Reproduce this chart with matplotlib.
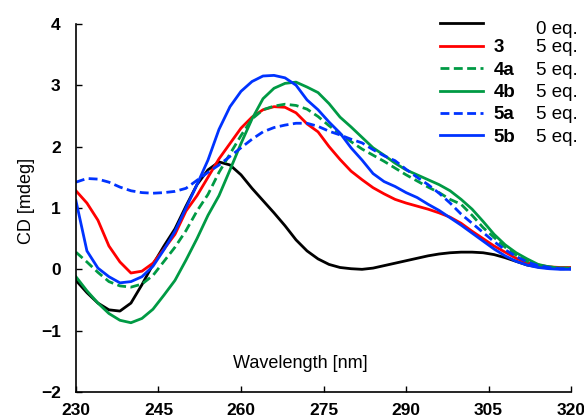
# CD titration spectra
# Recreating the CD plot of the ligand additions

# Import libraries ............................................................

import numpy as np
import matplotlib.pyplot as plt

plt.rcParams["font.family"] = ["Liberation Sans", "DejaVu Sans"]



wavelength = np.arange(230, 321, 2)

cd_0eq = [-0.18, -0.38, -0.55, -0.66, -0.68, -0.55, -0.25, 0.08, 0.38, 0.66,
          1.03, 1.38, 1.62, 1.75, 1.70, 1.54, 1.32, 1.12, 0.92, 0.71,
          0.48, 0.30, 0.17, 0.08, 0.03, 0.01, 0.00, 0.02, 0.06, 0.10,
          0.14, 0.18, 0.22, 0.25, 0.27, 0.28, 0.28, 0.27, 0.24, 0.19,
          0.13, 0.07, 0.04, 0.02, 0.01, 0.01]

cd_3 = [1.28, 1.08, 0.80, 0.38, 0.12, -0.06, -0.03, 0.10, 0.33, 0.57,
        0.95, 1.20, 1.50, 1.80, 2.05, 2.30, 2.48, 2.60, 2.65, 2.64,
        2.55, 2.37, 2.24, 2.00, 1.79, 1.60, 1.46, 1.33, 1.23, 1.14,
        1.08, 1.03, 0.98, 0.92, 0.85, 0.75, 0.62, 0.50, 0.38, 0.28,
        0.18, 0.11, 0.07, 0.04, 0.03, 0.03]

cd_4a = [0.28, 0.12, -0.05, -0.20, -0.27, -0.29, -0.24, -0.10, 0.13, 0.36,
         0.63, 0.95, 1.22, 1.58, 1.88, 2.18, 2.45, 2.60, 2.66, 2.69,
         2.67, 2.61, 2.49, 2.34, 2.21, 2.08, 1.96, 1.86, 1.76, 1.65,
         1.54, 1.44, 1.34, 1.25, 1.14, 1.06, 0.88, 0.68, 0.52, 0.36,
         0.23, 0.13, 0.07, 0.04, 0.02, 0.02]

cd_4b = [-0.12, -0.35, -0.55, -0.72, -0.83, -0.87, -0.80, -0.65, -0.42, -0.18,
         0.15, 0.50, 0.88, 1.20, 1.62, 2.05, 2.45, 2.78, 2.95, 3.03,
         3.05, 2.97, 2.88, 2.70, 2.48, 2.32, 2.15, 1.98, 1.86, 1.73,
         1.62, 1.54, 1.46, 1.38, 1.28, 1.14, 0.98, 0.78, 0.57, 0.40,
         0.27, 0.17, 0.08, 0.04, 0.02, 0.02]

cd_5a = [1.42, 1.48, 1.47, 1.42, 1.34, 1.28, 1.25, 1.24, 1.25, 1.27,
         1.32, 1.45, 1.58, 1.70, 1.84, 1.98, 2.12, 2.24, 2.31, 2.35,
         2.38, 2.38, 2.33, 2.25, 2.19, 2.12, 2.06, 1.95, 1.85, 1.77,
         1.63, 1.50, 1.38, 1.24, 1.08, 0.90, 0.75, 0.60, 0.45, 0.32,
         0.21, 0.12, 0.06, 0.03, 0.01, 0.01]

cd_5b = [1.12, 0.30, 0.02, -0.12, -0.22, -0.20, -0.12, 0.05, 0.32, 0.62,
         1.00, 1.38, 1.78, 2.28, 2.65, 2.90, 3.06, 3.15, 3.16, 3.12,
         3.00, 2.76, 2.60, 2.40, 2.22, 1.98, 1.78, 1.56, 1.43, 1.35,
         1.25, 1.17, 1.06, 0.96, 0.84, 0.72, 0.59, 0.46, 0.33, 0.22,
         0.13, 0.07, 0.03, 0.01, 0.00, 0.00]

spectra = [cd_0eq, cd_3, cd_4a, cd_4b, cd_5a, cd_5b]
names = ["", "3", "4a", "4b", "5a", "5b"]
equivalents = ["0 eq.", "5 eq.", "5 eq.", "5 eq.", "5 eq.", "5 eq."]
colors = ["black", "#ff0000", "#009a44", "#009a44", "#0033ff", "#0033ff"]
styles = ["-", "-", "--", "-", "--", "-"]

x_ticks = [230, 245, 260, 275, 290, 305, 320]
y_ticks = [-2, -1, 0, 1, 2, 3, 4]



# Plot spectra ................................................................

fig = plt.figure(figsize = (5.84, 4.18), dpi = 100)
ax = fig.add_axes([0.130, 0.062, 0.848, 0.881])

handles = []
for y, c, ls in zip(spectra, colors, styles):
    line, = ax.plot(wavelength, y, color = c, linestyle = ls, linewidth = 2.0)
    if ls == "--":
        line.set_dashes((3.2, 1.6))
    handles.append(line)

ax.set_xlim(230, 320)
ax.set_ylim(-2, 4)
ax.set_xticks(x_ticks)
ax.set_yticks(y_ticks)
ax.tick_params(direction = "in", length = 4, width = 1, labelsize = 12.5)
ax.tick_params(axis = "x", pad = 8)
ax.tick_params(axis = "y", pad = 11)
for lab in ax.get_xticklabels() + ax.get_yticklabels():
    lab.set_fontweight("bold")

ax.spines["top"].set_visible(False)
ax.spines["right"].set_visible(False)
ax.spines["left"].set_linewidth(1.2)
ax.spines["bottom"].set_linewidth(1.2)

ax.set_xlabel("Wavelength [nm]", fontsize = 13)
ax.xaxis.set_label_coords(0.453, 0.10)
ax.set_ylabel("CD [mdeg]", fontsize = 13)
ax.yaxis.set_label_coords(-0.082, 0.519)

# Legend: bold compound names, then the equivalents column
leg = ax.legend(handles, names, loc = "upper left", bbox_to_anchor = (0.735, 1.019),
                frameon = False, borderpad = 0, borderaxespad = 0,
                handlelength = 2.3, handletextpad = 0.55, labelspacing = 0.28,
                prop = {"size": 13.5, "weight": "bold"})
for txt, eq in zip(leg.get_texts(), equivalents):
    ax.annotate(eq, xy = (0, 0.5), xycoords = txt, xytext = (31, 0),
                textcoords = "offset points", va = "center", ha = "left",
                fontsize = 13.5, zorder = 10, annotation_clip = False)

plt.savefig("out.png", dpi = 100)
